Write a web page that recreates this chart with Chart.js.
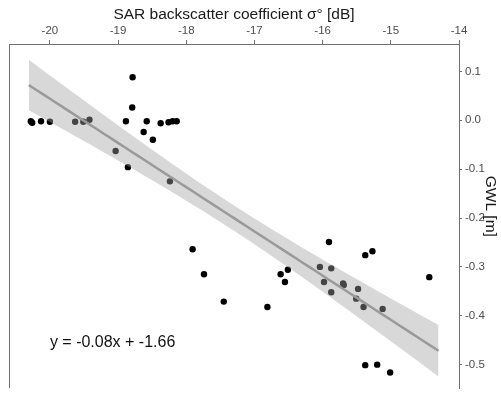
<!DOCTYPE html>
<html><head><meta charset="utf-8">
<script src="https://cdn.jsdelivr.net/npm/chart.js@4.4.0/dist/chart.umd.min.js"></script>
<style>html,body{margin:0;padding:0;background:#fff;overflow:hidden;}</style>
</head><body>
<canvas id="c" width="501" height="398"></canvas>
<script>
// ---- data ----
const sigma = [-20.28, -20.26, -20.13, -20.00, -19.63, -19.51, -19.42, -18.885, -18.787, -18.793,
  -18.58, -18.625, -18.49, -18.376, -18.26, -18.20, -18.14, -19.036, -18.856, -18.24,
  -17.907, -17.74, -17.45, -16.81, -16.616, -16.51, -16.553, -15.907, -16.04, -15.874,
  -15.98, -15.874, -15.70, -15.69, -15.48, -15.507, -15.40, -15.12, -15.375, -15.27,
  -14.436, -15.375, -15.20, -15.01];
const gwl = [-0.002, -0.005, -0.002, -0.003, -0.003, -0.003, 0.001, -0.002, 0.088, 0.026,
  -0.002, -0.024, -0.040, -0.006, -0.004, -0.002, -0.002, -0.063, -0.096, -0.125,
  -0.264, -0.315, -0.371, -0.382, -0.315, -0.306, -0.331, -0.249, -0.300, -0.303,
  -0.331, -0.352, -0.334, -0.337, -0.345, -0.365, -0.382, -0.386, -0.276, -0.268,
  -0.321, -0.501, -0.500, -0.516];
const xTicks = [-20, -19, -18, -17, -16, -15, -14];
const yTicks = [0.1, 0.0, -0.1, -0.2, -0.3, -0.4, -0.5];
const xRange = [-20.6, -14];
const yRange = [-0.548, 0.156];
const fitRange = [-20.31, -14.30];
const xTitle = 'SAR backscatter coefficient σ° [dB]';
const yTitle = 'GWL [m]';
const equation = 'y = -0.08x + -1.66';

// ---- linear fit with 95% confidence band, from the data ----
const n = sigma.length;
const mx = sigma.reduce((a, b) => a + b, 0) / n;
const my = gwl.reduce((a, b) => a + b, 0) / n;
let sxx = 0, sxy = 0;
for (let i = 0; i < n; i++) { sxx += (sigma[i] - mx) ** 2; sxy += (sigma[i] - mx) * (gwl[i] - my); }
const slope = sxy / sxx, icpt = my - slope * mx;
let sse = 0;
for (let i = 0; i < n; i++) sse += (gwl[i] - (icpt + slope * sigma[i])) ** 2;
const s = Math.sqrt(sse / (n - 2));
const tCrit = 2.018;
const fitLine = [], bandUp = [], bandLo = [];
const steps = 60;
for (let k = 0; k <= steps; k++) {
  const x = fitRange[0] + (fitRange[1] - fitRange[0]) * k / steps;
  const yh = icpt + slope * x;
  const se = s * Math.sqrt(1 / n + (x - mx) ** 2 / sxx);
  fitLine.push({ x, y: yh });
  bandUp.push({ x, y: yh + tCrit * se });
  bandLo.push({ x, y: yh - tCrit * se });
}

const family = '"Liberation Sans", Arial, Helvetica, sans-serif';
const axisColor = '#707070';

const extras = {
  id: 'extras',
  afterDraw(chart) {
    const { ctx, chartArea: ca, scales } = chart;
    ctx.save();
    ctx.strokeStyle = axisColor; ctx.lineWidth = 1;
    ctx.beginPath(); ctx.moveTo(ca.left + 0.5, ca.top); ctx.lineTo(ca.left + 0.5, ca.bottom); ctx.stroke();
    ctx.fillStyle = '#111';
    ctx.font = '16px ' + family;
    ctx.textAlign = 'left'; ctx.textBaseline = 'middle';
    ctx.fillText(equation, scales.x.getPixelForValue(-20.0), scales.y.getPixelForValue(-0.455));
    ctx.fillStyle = '#1a1a1a';
    ctx.font = '15.5px ' + family;
    ctx.translate(490, scales.y.getPixelForValue(-0.176));
    ctx.rotate(Math.PI / 2);
    ctx.textAlign = 'center';
    ctx.fillText(yTitle, 0, 0);
    ctx.restore();
  }
};

new Chart(document.getElementById('c'), {
  type: 'scatter',
  data: {
    datasets: [
      { label: 'obs', data: sigma.map((x, i) => ({ x, y: gwl[i] })), backgroundColor: '#000', borderWidth: 0, pointRadius: 3.2, order: 3 },
      { label: 'up', type: 'line', data: bandUp, borderWidth: 0, borderColor: 'rgba(0,0,0,0)', pointRadius: 0, fill: false, order: 2 },
      { label: 'lo', type: 'line', data: bandLo, borderWidth: 0, borderColor: 'rgba(0,0,0,0)', pointRadius: 0, fill: 1, backgroundColor: 'rgba(163,163,163,0.42)', order: 2 },
      { label: 'fit', type: 'line', data: fitLine, borderColor: '#9a9a9a', borderWidth: 2.5, pointRadius: 0, fill: false, order: 1 }
    ]
  },
  options: {
    responsive: false, animation: false, events: [],
    layout: { padding: { left: 9, right: 0, top: 0, bottom: 0 } },
    plugins: { legend: { display: false }, tooltip: { enabled: false } },
    scales: {
      x: {
        type: 'linear', position: 'top', min: xRange[0], max: xRange[1],
        afterBuildTicks: sc => { sc.ticks = xTicks.map(v => ({ value: v })); },
        afterFit: sc => { sc.height = 44; },
        grid: { display: true, drawOnChartArea: false, drawTicks: true, tickLength: 4, color: axisColor, lineWidth: 1 },
        border: { display: true, color: axisColor, width: 1 },
        ticks: { color: '#4d4d4d', font: { size: 11.5, family }, padding: 2, maxRotation: 0, callback: v => String(v) },
        title: { display: true, text: xTitle, color: '#1a1a1a', font: { size: 15.5, family }, padding: { top: 5, bottom: 0 } }
      },
      y: {
        type: 'linear', position: 'right', min: yRange[0], max: yRange[1],
        afterBuildTicks: sc => { sc.ticks = yTicks.map(v => ({ value: v })); },
        afterFit: sc => { sc.width = 42; },
        grid: { display: true, drawOnChartArea: false, drawTicks: true, tickLength: 3, color: axisColor, lineWidth: 1 },
        border: { display: true, color: axisColor, width: 1 },
        ticks: { color: '#4d4d4d', font: { size: 11.5, family }, padding: 3, callback: v => v.toFixed(1) }
      }
    }
  },
  plugins: [extras]
});
</script>
</body></html>
